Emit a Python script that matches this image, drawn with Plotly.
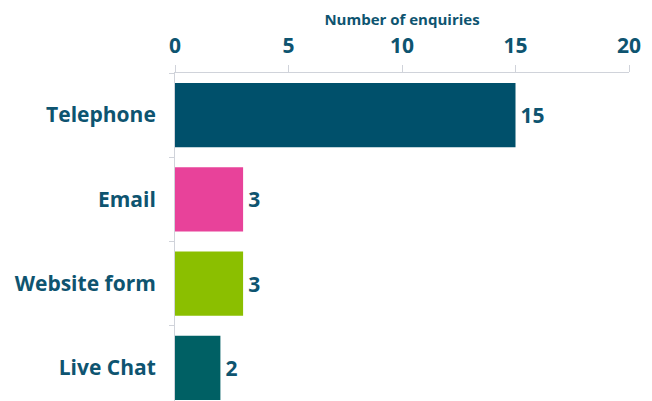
import plotly.graph_objects as go

categories = ["Telephone", "Email", "Website form", "Live Chat"]
values = [15, 3, 3, 2]
colors = ["#00506B", "#E8429A", "#8BBF00", "#006064"]
x_ticks = [0, 5, 10, 15, 20]

TXT = "#0E5470"
GRID = "#D0D3DA"
FONT = "Open Sans"

fig = go.Figure(go.Bar(
    x=values, y=categories, orientation="h",
    marker=dict(color=colors, line=dict(width=0)),
    width=0.76,
    texttemplate="\u200a%{x}", textposition="outside",
    textfont=dict(family=FONT, size=21, color=TXT, weight=700),
    cliponaxis=False,
))

fig.update_layout(
    width=652, height=401,
    margin=dict(l=175, r=23, t=73, b=0),
    paper_bgcolor="white", plot_bgcolor="white",
    showlegend=False,
    font=dict(family=FONT, color=TXT),
    xaxis=dict(
        side="top", range=[0, 20], tickvals=x_ticks,
        showgrid=False, zeroline=False,
        showline=True, linecolor=GRID, linewidth=1,
        ticks="outside", ticklen=7, tickcolor=GRID,
        tickfont=dict(family=FONT, size=21, color=TXT, weight=700),
        ticklabelstandoff=4,
        title=dict(text="Number of enquiries", standoff=1,
                   font=dict(family=FONT, size=15, color=TXT, weight=700)),
    ),
    yaxis=dict(
        categoryorder="array", categoryarray=categories,
        range=[3.393, -0.5],
        showgrid=False, zeroline=False,
        showline=True, linecolor=GRID, linewidth=1,
        ticks="outside", ticklen=5, tickcolor=GRID, tickson="boundaries",
        tickfont=dict(family=FONT, size=21, color=TXT, weight=700),
        ticklabelstandoff=14,
    ),
)

fig.write_html("out.html")
